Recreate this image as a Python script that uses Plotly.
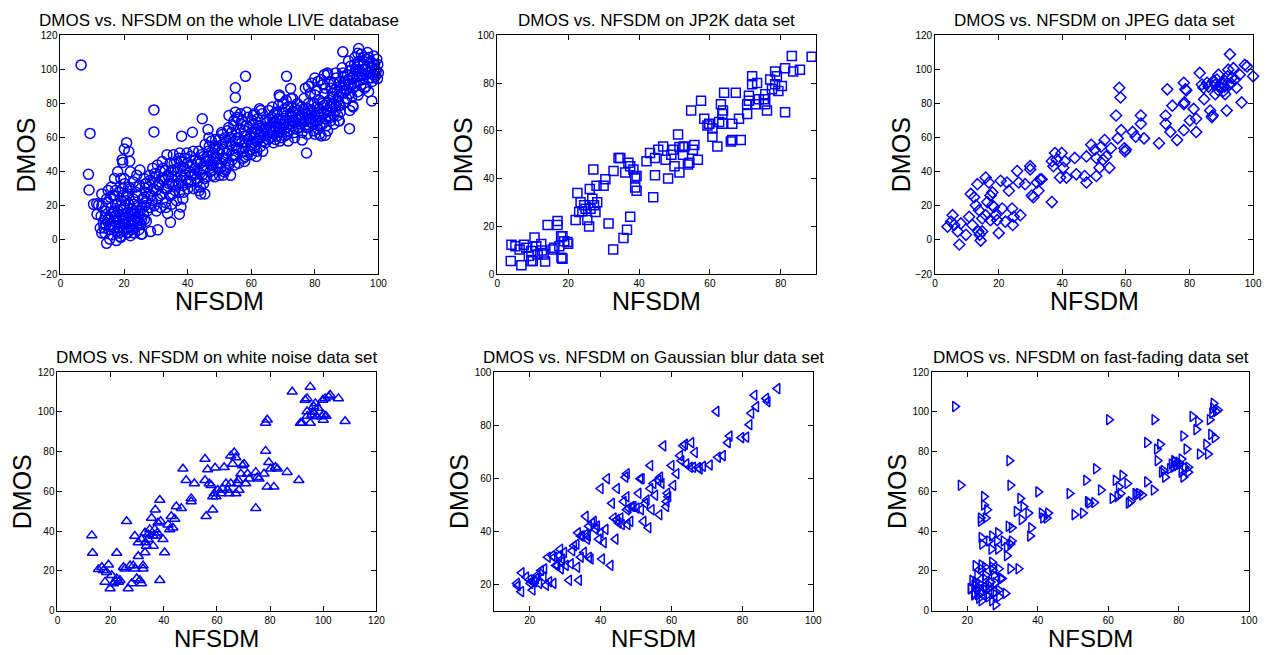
import plotly.graph_objects as go

# ---------------- data ----------------
titles = [
    "DMOS vs. NFSDM on the whole LIVE database",
    "DMOS vs. NFSDM on JP2K data set",
    "DMOS vs. NFSDM on JPEG data set",
    "DMOS vs. NFSDM on white noise data set",
    "DMOS vs. NFSDM on Gaussian blur data set",
    "DMOS vs. NFSDM on fast-fading data set",
]
x_label = "NFSDM"
y_label = "DMOS"

whole_points = [
    # outliers
    (6.5,102.7),(9.3,62.5),(8.8,38.5),(9.0,29.3),(10.4,20.9),(11.4,21.2),(12.0,20.5),(19.4,47.0),(19.6,45.5),(20.8,57.1),
    (20.1,53.3),(21.5,51.9),(21.8,46.2),(14.5,-2.0),(17.6,-0.4),(21.1,4.0),(25.4,3.4),(28.3,4.9),(30.6,5.9),(29.4,76.3),
    (29.4,63.4),(33.7,15.5),(34.6,10.3),(37.4,15.1),(37.9,19.3),(38.1,60.9),(41.5,63.2),(44.6,71.1),(45.4,27.0),(46.4,64.8),
    (55.0,89.3),(55.0,83.6),(58.2,96.0),(53.5,37.9),(71.1,96.0),(72.4,88.9),(68.8,85.1),(77.4,51.0),(76.0,58.6),(88.8,110.4),
    (90.9,65.3),(93.5,109.5),(93.8,112.3),(91.9,78.8),(97.9,81.6),(96.9,87.0),(99.7,94.7),(87.7,69.8),(87.2,73.0),(86.5,78.2),
    (81.5,62.1),(83.3,61.5),(43.6,28.9),(44.1,27.0),
    # low cluster
    (12.5,7),(12.8,14),(13,20),(13.5,10),(14,4),(14,17),(14.8,12),(15,22),(15.3,6),(15.6,9),
    (15.8,15),(16,19),(16.2,3),(16.5,26),(16.7,11),(17,7),(17.2,14),(17.4,21),(17.8,5),(18,10),
    (18.2,17),(18.4,28),(18.6,13),(18.8,2),(19,8),(19.2,23),(19.4,15),(19.6,11),(19.8,5),(20,19),
    (20.2,33),(20.4,9),(20.6,13),(20.8,26),(21,4.5),(21.1,16),(21.3,7),(21.5,21),(21.7,11),(21.9,30),
    (22.1,14),(22.3,6),(22.5,18),(22.7,9),(22.9,24),(23.1,12),(23.3,4),(23.5,16),(23.7,28),(23.9,8),
    (24.1,20),(24.3,11),(24.5,14),(24.7,6),(24.9,32),(25.1,17),(25.3,9),(25.5,12),(25.7,3.5),(25.9,24),
    (26.1,15),(26.3,36),(26.5,20),(26.7,28),(27,11),(16,31),(17,36),(19,36),(20,36),(13,27),
    (14.5,24),(11.5,15),(22,40),(24,38),(25,41),(20.5,23),(16.5,16),(18.5,7),(23,21),(14,13),
    (13,4),(22,2.5),(19,1.5),(15.5,0.5),(21.5,31),(23,34),(18,40),(17,26),(15,29),(19.5,30),
    (13.7,7),(14.3,9),(15.2,13),(16.1,8),(16.9,17),(17.7,12),(18.3,4),(19.1,18),(19.9,13),(20.7,7),
    (21.6,14),(22.4,11),(23.2,17),(24.0,13),(24.8,10),(25.6,19),(26.4,12),(20.1,10),(22.8,15),(18.9,20),
    (17.3,29),(21.2,27),(24.4,26),(26.9,33),(23.7,31),(19.7,26),(15.7,25),
    # main band
    (27,22),(27.5,31),(28,38),(28,19),(28.5,26),(29,42),(29,34),(29.5,20),(30,29),(30,37),
    (30.5,44),(30.5,24),(31,32),(31.5,40),(31.5,19),(32,27),(32,46),(32.5,35),(33,22),(33,41),
    (33.5,30),(33.5,50),(34,37),(34.5,26),(34.5,45),(35,33),(35,21),(35.5,41),(35.5,50),(36,29),
    (36,37),(36.5,46),(36.5,23),(37,33),(37,42),(37.5,28),(37.5,51),(38,38),(38,46),(38.5,32),
    (38.5,24),(39,42),(39,48),(39.5,35),(40,30),(40,45),(40.5,40),(41,49),(41,34),(41.5,44),
    (42,38),(42,30),(42.5,47),(43,41),(43,34),(43.5,52),(44,45),(44,31),(44.5,38),(45,49),
    (45,33),(45.5,56),(46,43),(46,37),(46.5,52),(47,47),(47,40),(47.5,58),(48,44),(48,51),
    (48.5,37),(49,55),(49,48),(49.5,42),(50,59),(50,51),(50.5,45),(51,62),(51,53),(51.5,40),
    (52,57),(52,48),(52.5,64),(53,52),(53,44),(53.5,60),(54,55),(54,47),(54.5,67),(55,58),
    (55,50),(55.5,72),(55.5,62),(56,53),(56.5,65),(57,57),(57,70),(57.5,48),(58,61),(58,54),
    (58.5,67),(59,59),(59,72),(59.5,52),(60,63),(60,56),(60.5,68),(61,60),(61,54),(61.5,65),
    (62,71),(62,58),(62.5,62),(63,67),(63,55),(63.5,74),(64,61),(64,65),(64.5,57),(65,69),
    (65,63),(65.5,76),(66,60),(66,66),(66.5,72),(67,57),(67,64),(67.5,69),(68,61),(68,75),
    (68.5,66),(69,58),(69,71),(69.5,63),(70,68),(70,80),(70.5,61),(71,73),(71,66),(71.5,78),
    (72,64),(72,70),(72.5,83),(73,67),(73,75),(73.5,63),(74,71),(74,69),(74.5,80),(75,66),
    (75,74),(75.5,68),(76,72),(76,63),(76.5,77),(77,70),(77,89),(77.5,74),(78,66),(78,80),
    (78.5,71),(79,76),(79,92),(79.5,68),(80,73),(80,85),(80.5,78),(81,70),(81,65),(81.5,82),
    (82,74),(82,94),(82.5,68),(83,79),(83,86),(83.5,71),(84,97),(84,76),(84.5,82),(85,89),
    (85,72),(85.5,86),(86,80),(86,92),(86.5,76),(87,87),(87.5,84),(88,93),(88,79),(88.5,89),
    (89,86),(89,96),(89.5,91),(90,83),(90,88),(90.5,94),(91,99),(91,86),(91.5,91),(92,96),
    (92,89),(92.5,103),(93,93),(93,99),(93.5,87),(94,96),(94,105),(94.5,91),(95,100),(95,94),
    (95.5,107),(96,97),(96,90),(96.5,102),(97,95),(97,107),(97.5,99),(98,104),(98,93),(98.5,108),
    (99,100),(99,96),(99.5,106),(100,98),(55,75),(56,71),(53,73),(63,76),(61,74),(69,84),
    (71,82),(73,83),(78,90),(80,95),(81,93),(83,97),(84,98),(91,76),(92,78),(98,95),
    (87.5,70),(88,75),(86,73),(80,62),(82,61),(84,64),(85,70),(86,68),
    (50,38),(52,41),(56,45),(58,49),(60,50),
    # band fill
    (26.4,25),(26.8,33),(27.3,17),(27.8,27),(28.3,35),(28.8,23),(29.2,30),(29.7,39),(30.2,17),(30.8,33),
    (31.3,26),(31.8,36),(32.3,42),(32.8,30),(33.2,19),(33.8,38),(34.2,33),(34.8,40),(35.3,27),(35.8,45),
    (36.2,32),(36.8,40),(37.3,48),(37.8,35),(38.3,43),(38.8,28),(39.3,38),(39.8,51),(40.3,34),(40.8,43),
    (41.3,38),(41.8,52),(42.3,42),(42.8,36),(43.3,46),(43.8,39),(44.3,50),(44.8,42),(45.3,36),(45.8,46),
    (46.3,49),(46.8,55),(47.3,44),(47.8,38),(48.3,48),(48.8,59),(49.3,45),(49.8,53),(50.3,42),(50.8,56),
    (51.3,48),(51.8,60),(52.3,51),(52.8,45),(53.3,56),(53.8,63),(54.3,50),(54.8,44),(55.3,54),(55.8,60),
    (46.7,60),(48.6,54),(50.7,63),(52.9,66),(54.6,70),(47.9,41),(51.2,38),
    (56.3,58),(56.8,68),(57.3,52),(57.8,64),(58.3,57),(58.8,50),(59.3,66),(59.8,61),(60.3,70),(60.8,57),
    (61.3,63),(61.8,52),(62.3,67),(62.8,60),(63.3,64),(63.8,58),(64.3,70),(64.8,66),(65.3,59),(65.8,71),
    (56.6,74),(58.6,75),(60.6,73),(62.6,77),(57.9,46),(59.9,53),(61.6,49),(63.6,52),
    (66.3,63),(66.8,69),(67.3,74),(67.8,66),(68.3,71),(68.8,63),(69.3,68),(69.8,75),(70.3,65),(70.8,70),
    (71.3,62),(71.8,68),(72.3,74),(72.8,72),(73.3,69),(73.8,77),(74.3,65),(74.8,72),
    (66.6,78),(68.6,79),(70.6,77),(72.6,78),(74.6,76),(67.6,59),(69.6,60),(71.6,58),(73.6,60),
    (75.3,71),(75.8,78),(76.3,69),(76.8,74),(77.3,66),(77.8,77),(78.3,73),(78.8,69),(79.3,72),(79.8,80),
    (80.3,70),(80.8,74),(81.3,77),(81.8,72),(82.3,80),(82.8,75),(83.3,89),(83.8,80),(84.3,73),(84.8,78),
    (76.6,83),(78.6,86),(80.6,88),(82.6,91),(84.6,93),(79.6,64),(81.6,67),(83.6,67),(77.6,62),
    (85.3,80),(85.8,84),(86.3,88),(86.8,95),(87.3,82),(87.8,90),(88.3,86),(88.8,98),(89.3,93),(89.8,88),
    (90.3,97),(90.8,92),(91.3,102),(91.8,95),(92.3,92),(92.8,100),(93.3,96),(93.8,103),(94.3,99),(94.8,97),
    (95.3,103),(95.8,100),(96.3,106),(96.8,98),(97.3,104),(97.8,101),(98.3,97),(98.8,103),(99.3,99),(99.8,103),
    (86.6,98),(88.6,101),(90.6,105),(92.6,107),(94.6,109),(96.6,110),(87.6,79),(89.6,81),(91.6,84),(93.6,85),
    (95.6,89),
]

jp2k_x = [3.8,4.0,5.1,6.3,6.8,7.5,8.2,8.9,9.6,9.6,10.0,10.5,11.0,11.4,12.4,12.6,13.1,13.5,14.2,15.6,
          16.1,17.0,17.0,17.5,18.0,18.1,18.4,18.9,19.8,20.0,18.4,
          22.1,22.6,23.1,23.5,24.0,24.5,24.9,25.4,25.9,26.1,26.3,26.8,27.1,27.3,27.7,28.0,28.2,30.0,30.5,31.4,
          32.7,32.8,34.2,34.7,35.6,36.1,36.6,37.0,37.5,37.5,38.4,38.9,38.9,39.3,39.3,
          42.1,43.1,44.0,44.5,44.5,45.4,46.8,47.5,48.2,49.1,49.6,50.0,51.0,51.4,51.4,52.4,52.4,52.8,53.8,54.2,
          54.7,55.2,55.6,56.6,57.5,58.4,59.3,59.8,60.7,60.7,62.1,62.6,63.1,63.5,63.5,64.0,63.7,65.9,66.3,66.3,
          67.3,68.2,68.7,70.5,70.5,71.0,71.0,71.9,71.9,72.8,73.3,73.8,75.2,75.6,75.6,76.1,77.0,77.5,78.4,78.4,
          78.9,79.3,80.3,81.2,81.2,83.1,83.5,85.4,88.7]
jp2k_y = [5.5,12.3,11.6,10.3,3.7,12.3,11.0,7.5,9.6,5.5,5.5,15.3,11.6,8.2,12.6,9.9,8.2,5.2,20.5,10.3,
          11.0,20.5,22.2,11.6,15.8,6.8,6.4,13.7,13.4,12.7,15.8,
          22.6,34.0,26.0,30.1,26.3,28.8,27.4,22.6,19.9,35.6,27.4,31.5,43.8,28.8,26.0,37.0,30.1,37.0,39.7,21.2,
          10.3,43.2,48.6,48.6,15.1,42.5,18.5,46.6,24.0,45.2,43.8,40.4,36.3,34.9,41.1,
          47.3,50.7,32.2,48.6,41.4,52.1,53.4,47.9,40.0,50.0,52.1,45.2,58.5,53.2,42.5,53.2,50.0,53.4,45.9,46.6,
          68.5,52.1,54.1,47.9,72.6,65.1,62.3,63.0,57.5,61.0,53.4,63.7,71.2,67.1,63.0,76.0,68.5,55.5,56.2,63.0,
          76.0,65.1,56.2,67.1,71.2,74.7,72.6,82.9,79.5,71.2,80.1,73.3,73.3,75.3,71.2,68.5,81.5,77.4,84.9,79.5,
          82.9,76.7,78.8,67.8,86.3,91.4,84.9,85.6,91.1]

jpeg_x = [3.9,5.0,5.5,6.0,7.1,7.6,8.1,9.7,10.7,11.2,
          11.7,12.3,12.8,13.3,13.6,13.8,14.0,14.3,14.8,14.8,
          15.9,15.9,16.4,16.9,17.4,17.4,18.0,18.0,18.5,19.0,
          19.5,20.0,20.6,21.1,22.1,22.6,23.2,24.2,24.4,24.7,
          25.8,26.3,26.8,28.3,29.9,29.9,30.4,30.9,32.0,32.5,
          33.0,33.5,36.7,36.7,37.2,37.7,38.2,39.3,39.8,40.3,
          40.8,41.3,43.9,44.4,47.0,47.6,47.6,49.1,50.2,50.7,
          50.7,51.7,52.2,52.8,53.3,53.8,54.8,55.3,56.9,57.4,
          57.9,58.3,58.5,59.5,59.7,60.0,62.1,63.1,64.7,64.7,
          65.7,70.4,72.5,72.5,73.0,74.0,74.6,76.1,78.2,78.2,
          78.4,78.7,78.2,79.0,80.1,81.3,82.1,82.1,83.2,83.9,
          84.4,84.6,85.5,86.5,87.0,87.3,87.5,88.1,88.6,89.1,
          89.6,90.1,90.7,91.2,91.2,91.7,92.2,92.7,92.7,93.3,
          93.8,94.3,94.8,95.8,96.4,97.4,98.1,100.0,
          86.0,88.0,90.0,91.0,92.0,89.0,93.0]
jpeg_y = [7.8,10.7,14.5,8.8,5.0,-2.7,9.7,3.0,13.6,27.0,
          8.8,25.1,20.3,32.7,5.0,17.4,3.0,-0.4,12.6,5.0,
          36.6,14.5,22.2,33.7,26.0,11.6,27.9,20.3,19.3,14.5,
          11.6,4.0,34.7,18.4,10.7,33.7,28.9,18.4,8.8,13.6,
          40.4,33.7,14.5,32.7,43.3,41.4,26.0,25.1,33.7,28.9,
          35.6,35.6,46.2,22.2,43.3,51.0,47.1,36.6,51.0,42.3,
          46.2,36.6,48.1,38.5,37.5,33.7,49.0,55.8,52.9,37.5,
          48.1,42.3,54.8,47.1,58.6,49.0,42.3,53.8,73.0,59.6,
          89.3,83.6,64.4,53.8,51.9,52.9,63.4,60.6,68.2,73.0,
          59.6,56.7,73.0,68.2,88.4,63.4,78.8,58.6,64.4,79.7,
          80.7,88.4,92.2,87.8,70.1,76.9,63.4,71.1,98.0,91.2,
          89.3,82.6,92.2,75.9,72.1,73.0,93.2,85.5,94.1,97.0,
          90.3,89.3,87.4,85.5,93.2,75.9,99.9,108.9,91.2,95.1,
          100.8,94.1,89.3,97.0,80.7,102.7,101.8,96.0,
          90.0,91.0,92.0,90.0,96.0,88.0,92.0]

wn_x = [12.9,13.2,15.4,16.7,17.3,17.9,18.5,19.2,19.8,20.4,
        21.0,21.7,22.3,22.3,22.9,23.5,24.8,25.4,26.0,26.6,
        27.3,27.9,28.5,29.1,29.1,29.8,30.4,30.4,31.0,31.6,
        31.6,32.2,32.2,32.9,32.9,33.1,33.5,34.1,34.1,34.7,
        35.4,36.0,36.0,36.6,36.8,37.2,37.6,37.8,38.5,38.5,
        38.8,39.7,40.3,41.6,42.2,42.8,43.4,44.1,44.7,46.6,
        47.2,48.4,50.3,50.3,51.5,55.5,55.5,55.9,56.5,57.1,
        57.8,58.4,58.4,59.0,59.3,59.6,60.3,61.5,62.1,62.7,
        63.4,64.0,64.6,65.2,65.2,65.9,66.5,67.1,67.1,67.7,
        68.0,68.3,69.0,69.6,70.2,70.8,71.5,72.1,74.6,74.6,
        75.2,75.8,77.7,78.3,78.3,78.9,78.9,79.5,80.2,81.4,
        82.0,82.7,86.4,90.8,88.3,91.4,92.0,93.2,93.9,93.9,
        95.1,95.1,95.7,96.4,97.0,97.6,99.5,99.8,100.1,100.7,
        102.0,102.6,105.7,108.2,94.0,96.0,100.0,101.0,98.0]
wn_y = [37.9,29.0,20.8,21.9,20.3,14.5,19.4,23.1,11.2,17.8,
        13.7,14.5,16.2,29.0,14.5,15.3,21.9,21.1,45.0,11.2,
        22.7,13.7,22.7,21.1,37.6,16.2,27.4,34.3,15.3,13.7,
        35.9,21.1,22.7,39.2,29.3,34.3,32.6,35.9,38.4,40.9,
        46.6,32.6,37.6,40.9,50.8,37.6,39.2,44.2,15.3,55.7,
        45.0,35.9,29.3,43.3,40.9,47.5,41.7,46.2,52.4,51.6,
        71.4,65.6,56.5,54.9,64.0,76.3,65.6,47.5,71.0,64.0,
        63.1,50.8,57.4,59.0,71.9,57.4,60.7,59.0,61.5,72.2,
        64.0,60.7,59.0,78.0,64.0,73.8,79.6,77.1,59.0,64.0,
        65.6,60.7,68.9,73.0,73.8,64.0,68.9,66.4,69.7,51.6,
        67.2,66.4,68.9,80.4,94.4,96.1,62.3,74.7,71.4,62.3,
        72.2,71.4,69.7,65.6,110.1,94.4,94.4,106.0,106.8,100.2,
        112.6,94.4,98.6,102.7,104.3,97.7,97.7,106.0,98.6,106.8,
        107.6,108.5,106.8,95.3,98.0,100.0,96.0,98.0,102.0]

gb_x = [16.4,16.6,17.6,17.7,19.0,19.9,20.2,20.6,20.8,21.3,
        21.8,22.2,22.7,23.2,23.9,24.1,24.6,25.1,25.5,26.4,
        26.7,26.9,27.4,27.8,28.3,28.6,28.8,29.0,29.2,29.7,
        30.2,31.1,31.6,32.0,32.5,33.2,33.4,33.6,33.9,34.4,
        34.4,34.8,35.3,35.8,35.8,36.2,36.4,36.7,36.7,37.2,
        37.6,38.1,38.6,39.0,39.5,40.0,40.0,40.4,40.9,41.4,
        41.8,42.8,43.2,43.7,44.2,44.6,44.6,45.1,45.6,46.0,
        46.5,47.0,47.3,47.4,47.4,47.6,47.9,48.4,48.8,49.3,
        50.2,50.7,51.2,51.4,51.6,52.1,52.6,53.0,53.5,54.0,
        54.0,54.4,54.9,55.4,56.3,56.6,56.8,57.2,57.7,58.5,
        58.6,58.8,59.1,60.0,60.5,61.4,62.4,62.8,63.3,63.8,
        64.2,65.2,65.6,66.1,66.6,67.5,68.0,68.9,70.8,72.7,
        73.1,74.5,75.9,76.4,79.7,81.1,82.0,82.5,83.4,83.9,
        86.7,87.1,89.9]
gb_y = [20.3,19.4,17.2,24.3,22.7,21.7,20.3,21.1,17.8,20.9,
        22.1,23.4,20.3,25.2,22.7,25.8,19.6,30.2,20.9,30.8,
        20.3,30.2,27.1,27.1,30.8,33.2,25.8,28.3,29.5,32.0,
        27.1,21.5,27.7,32.6,34.5,35.1,26.4,39.4,21.5,38.2,
        30.2,38.2,32.0,45.6,38.8,37.0,38.2,41.9,30.2,29.5,
        43.1,43.7,40.7,41.9,37.0,39.4,56.1,29.5,35.7,40.7,
        59.8,27.1,50.5,45.0,37.0,44.4,56.1,43.1,45.0,42.5,
        51.2,60.4,53.0,61.7,48.1,42.5,48.7,43.7,49.3,49.3,
        48.7,54.3,59.8,48.1,59.8,43.7,50.5,51.8,41.3,64.8,
        56.1,48.1,58.0,53.6,59.2,46.2,60.4,58.0,72.2,49.3,
        51.2,54.3,53.0,64.8,57.3,61.7,68.5,66.6,72.2,72.8,
        65.4,64.1,73.4,64.1,69.7,64.0,63.5,64.5,65.0,85.2,
        67.9,68.5,73.4,75.9,75.3,75.5,80.2,84.5,91.3,87.0,
        90.1,88.9,93.8]

ff_x = [16.5,18.1,20.9,21.4,21.9,22.3,22.3,22.8,22.8,23.3,
        23.3,23.8,23.8,23.8,24.0,24.2,24.7,24.7,25.2,25.2,
        25.2,25.6,25.6,26.1,26.1,26.6,26.8,27.0,27.0,27.2,
        27.5,27.5,28.0,28.4,28.7,28.7,28.9,28.9,29.4,29.8,
        30.3,30.8,31.2,31.2,31.7,31.9,32.2,32.2,32.2,32.6,
        32.6,34.0,34.5,35.0,35.4,35.9,37.3,37.8,38.1,40.1,
        41.1,41.5,42.5,42.9,49.0,50.4,52.8,53.7,54.2,54.6,
        56.0,56.5,57.9,60.2,61.2,62.1,62.6,63.0,63.5,64.0,
        65.4,65.8,66.3,67.7,68.2,68.7,69.6,71.0,71.0,72.9,
        73.1,73.8,74.0,74.7,75.2,75.7,76.1,77.5,78.0,78.5,
        78.7,78.9,79.4,79.9,80.3,80.8,80.8,81.3,81.3,81.7,
        82.2,82.7,82.7,83.9,85.0,85.5,86.0,87.8,88.3,88.8,
        89.2,89.5,89.7,89.9,90.2,90.6,91.1,
        21,22,22,23,23,24,24,25,25,26,26,27,28,28,29,27,25,24]
ff_y = [102.7,63.1,11.2,15.3,7.9,22.7,14.5,17.8,10.4,13.7,
        6.3,21.1,46.6,45.0,36.8,33.5,57.4,53.2,46.6,17.8,
        10.4,50.8,7.9,11.2,35.1,14.5,31.0,24.4,37.6,20.3,
        17.8,8.7,9.6,35.1,39.2,31.0,21.1,10.4,16.2,16.2,
        35.1,8.7,31.8,27.7,42.5,75.5,63.1,33.5,21.1,41.7,
        35.1,49.9,21.1,56.5,45.8,52.4,49.1,37.6,41.7,59.8,
        49.1,46.6,46.6,49.1,59.0,48.3,49.1,65.6,54.9,54.1,
        54.4,71.4,60.7,96.1,56.5,65.6,57.4,62.3,59.0,68.1,
        64.0,54.1,54.9,59.0,58.2,59.0,58.2,64.8,84.6,60.7,
        96.1,81.3,75.5,83.7,69.7,70.5,67.2,71.4,73.8,72.2,
        75.5,74.7,73.0,74.7,73.8,69.7,76.3,67.2,87.9,72.2,
        81.3,72.2,69.7,97.7,91.1,95.3,78.8,83.7,78.8,96.1,
        88.7,99.4,101.9,104.3,87.0,100.2,101.0,
        11,13,9,8,12,5,9,12,16,7,13,5,14,3,7,22,22,23]

whole_x = [p[0] for p in whole_points]
whole_y = [p[1] for p in whole_points]

# ---------------- figure ----------------
W, H = 1273, 655
FONT = "Liberation Sans, Arial, sans-serif"
BLUE = "#0000FF"

# axes boxes in pixels: (left, right, top, bottom)
boxes = [(58, 379, 30, 273), (499, 821, 30, 273), (941, 1262, 30, 273),
         (55, 377, 373, 616), (496, 818, 373, 616), (938, 1258, 373, 616)]
xranges = [[0, 100], [0, 90], [0, 100], [0, 120], [10, 100], [10, 100]]
yranges = [[-20, 120], [0, 100], [-20, 120], [0, 120], [10, 100], [0, 120]]
xticks = [list(range(0, 101, 20)), list(range(0, 81, 20)), list(range(0, 101, 20)),
          list(range(0, 121, 20)), list(range(20, 101, 20)), list(range(20, 101, 20))]
yticks = [list(range(-20, 121, 20)), list(range(0, 101, 20)), list(range(-20, 121, 20)),
          list(range(0, 121, 20)), list(range(20, 101, 20)), list(range(0, 121, 20))]

series = [
    (whole_x, whole_y, "circle-open", 10),
    (jp2k_x, jp2k_y, "square-open", 9),
    (jpeg_x, jpeg_y, "diamond-open", 8.5),
    (wn_x, wn_y, "triangle-up-open", 9),
    (gb_x, gb_y, "triangle-left-open", 9),
    (ff_x, ff_y, "triangle-right-open", 9),
]

fig = go.Figure()
annotations = []
for i, ((xs, ys, sym, sz), box) in enumerate(zip(series, boxes)):
    n = i + 1
    xa = "x" if n == 1 else f"x{n}"
    ya = "y" if n == 1 else f"y{n}"
    fig.add_trace(go.Scatter(
        x=xs, y=ys, mode="markers", xaxis=xa, yaxis=ya, showlegend=False,
        marker=dict(symbol=sym, size=sz, color=BLUE, line=dict(width=1.5, color=BLUE)),
        cliponaxis=False,
    ))
    l, r, t, b = box
    common = dict(showline=True, linecolor="black", linewidth=1, mirror="ticks",
                  ticks="inside", ticklen=5, tickcolor="black", tickwidth=1,
                  showgrid=False, zeroline=False,
                  tickfont=dict(family=FONT, size=10, color="black"))
    fig.update_layout(**{
        ("xaxis" if n == 1 else f"xaxis{n}"): dict(
            domain=[l / W, r / W], range=xranges[i], tickvals=xticks[i],
            anchor=ya, **common),
        ("yaxis" if n == 1 else f"yaxis{n}"): dict(
            domain=[1 - b / H, 1 - t / H], range=yranges[i], tickvals=yticks[i],
            anchor=xa, **common),
    })
    cx = (l + r) / 2 / W
    top_row = t < 100
    title_y = 15 if top_row else 358
    xlab_off = 27 if top_row else 28.5
    xlab_size = 25 if top_row else 24
    annotations.append(dict(text=titles[i], x=cx, y=1 - title_y / H, xref="paper", yref="paper",
                            xanchor="center", yanchor="middle", showarrow=False,
                            font=dict(family=FONT, size=17, color="black")))
    annotations.append(dict(text=x_label, x=cx, y=1 - (b + xlab_off) / H, xref="paper", yref="paper",
                            xanchor="center", yanchor="middle", showarrow=False,
                            font=dict(family=FONT, size=xlab_size, color="black")))
    annotations.append(dict(text=y_label, x=(l - 35) / W, y=1 - (t + b) / 2 / H, xref="paper",
                            yref="paper", xanchor="center", yanchor="middle", showarrow=False,
                            textangle=-90, font=dict(family=FONT, size=25, color="black")))

fig.update_layout(width=W, height=H, margin=dict(l=0, r=0, t=0, b=0),
                  paper_bgcolor="white", plot_bgcolor="white",
                  annotations=annotations, font=dict(family=FONT))
fig.write_html("out.html", config={"displayModeBar": False},
               post_script="document.body.style.margin='0px';document.body.style.overflow='hidden';")
